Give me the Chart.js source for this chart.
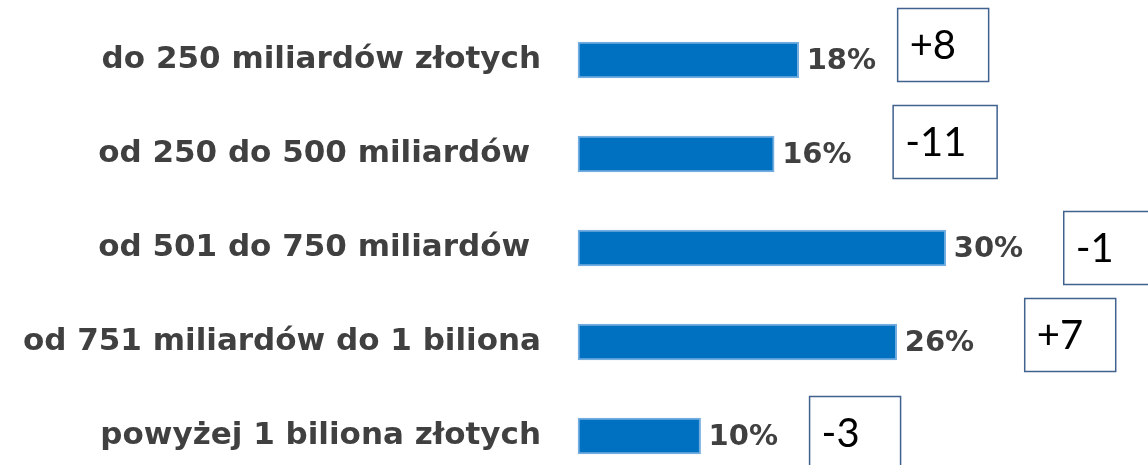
<!DOCTYPE html>
<html>
<head>
<meta charset="utf-8">
<script src="https://cdn.jsdelivr.net/npm/chart.js@4"></script>
<style>
  html, body { margin: 0; padding: 0; background: #fff; }
  #wrap { width: 1148px; height: 465px; position: relative; }
</style>
</head>
<body>
<div id="wrap"><canvas id="chart"></canvas></div>
<script>
// dane z wykresu
const categories = [
  'do 250 miliardów złotych',
  'od 250 do 500 miliardów ',
  'od 501 do 750 miliardów ',
  'od 751 miliardów do 1 biliona',
  'powyżej 1 biliona złotych'
];
const shares = [18, 16, 30, 26, 10];
const changes = ['+8', '-11', '-1', '+7', '-3'];

const valueFont = 'bold 29px "DejaVu Sans", sans-serif';

// etykiety % i ramki ze zmianą, rysowane obok słupków
const annotations = {
  id: 'annotations',
  afterDatasetsDraw(chart, args, opts) {
    const ctx = chart.ctx;
    const meta = chart.getDatasetMeta(0);
    ctx.save();
    meta.data.forEach((bar, i) => {
      // wartość procentowa
      ctx.font = valueFont;
      ctx.fillStyle = '#404040';
      ctx.textAlign = 'left';
      ctx.textBaseline = 'middle';
      ctx.fillText(shares[i] + '%', bar.x + 8, bar.y + 1);

      // ramka ze zmianą
      const bx = bar.x + opts.dx[i];
      const by = bar.y + opts.dy[i] - opts.h / 2;
      const bw = opts.w[i];
      ctx.fillStyle = '#fff';
      ctx.fillRect(bx, by, bw, opts.h);
      ctx.strokeStyle = '#41618f';
      ctx.lineWidth = 1.5;
      ctx.strokeRect(bx, by, bw, opts.h);
      ctx.font = '40px Lato, "Liberation Sans", sans-serif';
      ctx.fillStyle = '#000';
      ctx.fillText(changes[i], bx + 12, bar.y + opts.dy[i] + 1);
    });
    ctx.restore();
  }
};

new Chart(document.getElementById('chart'), {
  type: 'bar',
  data: {
    labels: categories,
    datasets: [{
      data: shares,
      backgroundColor: '#0070c0',
      borderColor: '#74ade0',
      borderWidth: 2,
      borderSkipped: false,
      barThickness: 36,
      clip: false
    }]
  },
  options: {
    indexAxis: 'y',
    responsive: true,
    maintainAspectRatio: false,
    animation: false,
    layout: { padding: { top: 60, bottom: 29, left: 0, right: 0 } },
    plugins: {
      legend: { display: false },
      tooltip: { enabled: false },
      annotations: {
        dx: [99, 119, 118, 128, 109],
        dy: [-15, -12, 0, -7, -3],
        w: [91, 104, 92, 91, 91],
        h: 73
      }
    },
    scales: {
      x: {
        display: false,
        min: 0,
        max: 46.5
      },
      y: {
        offset: false,
        border: { display: false },
        grid: { display: false, drawTicks: false },
        ticks: {
          color: '#404040',
          padding: 37,
          autoSkip: false,
          font: { family: '"DejaVu Sans", sans-serif', size: 31, weight: 'bold' }
        },
        afterFit(scale) {
          scale.width = 578;
          scale.paddingTop = 0;
          scale.paddingBottom = 0;
        }
      }
    }
  },
  plugins: [annotations]
});
</script>
</body>
</html>
